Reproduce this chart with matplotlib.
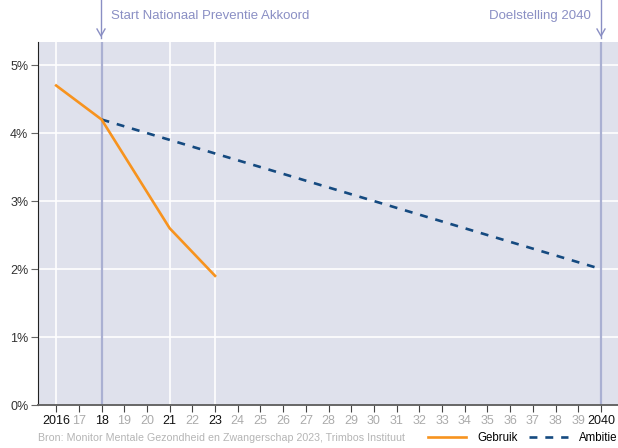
import matplotlib.pyplot as plt
from matplotlib.lines import Line2D

plt.rcParams['font.family'] = ['Liberation Sans', 'DejaVu Sans']

# data
gebruik_jaar = [2016, 2018, 2021, 2023]
gebruik = [4.7, 4.2, 2.6, 1.9]
ambitie_jaar = [2018, 2040]
ambitie = [4.2, 2.0]
jaren = list(range(2016, 2041))
labels = ['2016'] + [str(j)[2:] for j in range(2017, 2040)] + ['2040']
donker = [2016, 2018, 2021, 2023, 2040]
y_ticks = [0, 1, 2, 3, 4, 5]

oranje = '#f7931e'
blauw = '#154a80'
paars = '#8a8fc4'

fig = plt.figure(figsize=(6.18, 4.48), dpi=100)
ax = fig.add_axes([38 / 618, 43 / 448, 1 - 38 / 618, (405 - 42) / 448])
ax.set_facecolor('#dfe1ec')

ax.set_xlim(2015.2, 2040.75)
ax.set_ylim(0, 5.34)

# rasterlijnen
for y in y_ticks[1:]:
    ax.axhline(y, color='white', lw=1.2, zorder=1)
for j in [2016, 2021, 2023]:
    ax.axvline(j, color='white', lw=1.2, zorder=1)
for j in [2018, 2040]:
    ax.axvline(j, color='#aab0d2', lw=1.6, zorder=2)

ax.plot(gebruik_jaar, gebruik, color=oranje, lw=1.9, zorder=4)
ax.plot(ambitie_jaar, ambitie, color=blauw, lw=1.9, ls=(0, (3, 3)), zorder=3)

ax.set_xticks(jaren)
ax.set_xticklabels(labels)
for lab, j in zip(ax.get_xticklabels(), jaren):
    lab.set_color('#111111' if j in donker else '#ababab')
ax.set_yticks(y_ticks)
ax.set_yticklabels([f'{y}%' for y in y_ticks])
ax.tick_params(axis='x', length=5, color='#444444', labelsize=9, pad=2)
ax.tick_params(axis='y', length=5, color='#666666', labelsize=9, labelcolor='#333333', pad=2)

for s in ['top', 'right']:
    ax.spines[s].set_visible(False)
ax.spines['left'].set_color('#222222')
ax.spines['bottom'].set_color('#666666')
ax.spines['bottom'].set_linewidth(1.4)

# annotaties
fig.add_artist(Line2D([101 / 618, 101 / 618], [1.0, 1 - 38 / 448], color=paars, lw=1))
fig.add_artist(Line2D([97 / 618, 101 / 618, 105 / 618], [1 - 29 / 448, 1 - 36 / 448, 1 - 29 / 448], color=paars, lw=1))
fig.add_artist(Line2D([601 / 618, 601 / 618], [1.0, 1 - 38 / 448], color=paars, lw=1))
fig.add_artist(Line2D([597 / 618, 601 / 618, 605 / 618], [1 - 29 / 448, 1 - 36 / 448, 1 - 29 / 448], color=paars, lw=1))
fig.text(111 / 618, 1 - 16 / 448, 'Start Nationaal Preventie Akkoord', color=paars,
         fontsize=9.5, va='center', ha='left')
fig.text(591 / 618, 1 - 16 / 448, 'Doelstelling 2040', color=paars,
         fontsize=9.5, va='center', ha='right')

fig.text(38 / 618, 1 - 438 / 448, 'Bron: Monitor Mentale Gezondheid en Zwangerschap 2023, Trimbos Instituut',
         color='#b5b5b5', fontsize=7.7, va='center', ha='left')

handles = [Line2D([], [], color=oranje, lw=1.9),
           Line2D([], [], color=blauw, lw=1.9, ls=(0, (3, 3)))]
fig.legend(handles, ['Gebruik', 'Ambitie'], loc='center left', ncol=2,
           bbox_to_anchor=(428 / 618, 1 - 438 / 448), frameon=False, fontsize=8.3,
           handlelength=3.3, handletextpad=1.0, columnspacing=1.0, borderpad=0,
           borderaxespad=0)

fig.savefig('out.png', dpi=100)
